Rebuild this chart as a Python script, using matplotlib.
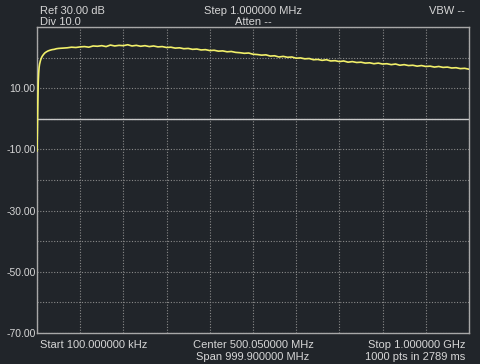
import numpy as np
import matplotlib
matplotlib.use("Agg")
import matplotlib.pyplot as plt
from matplotlib.ticker import FixedLocator, FuncFormatter

# Trace data: frequency in MHz and level in dB
freq_mhz = [0.1, 1, 2, 3, 4, 5, 6, 8, 10, 12, 15, 18, 22, 26, 30, 35, 40, 45, 50] + \
    list(range(60, 1001, 10))
level_db = [
    -10.5, -4.0, 5.0, 12.0, 15.0, 16.8, 17.8, 19.0, 19.8, 20.4, 21.0, 21.5, 21.9,
    22.2, 22.4, 22.6, 22.7, 22.9, 23.0,
    23.1, 23.2, 23.4, 23.3, 23.5, 23.6, 23.4, 23.8, 23.7, 23.9,
    23.6, 24.1, 23.8, 24.0, 23.9, 24.2, 23.8, 24.0, 23.7, 23.9,
    23.6, 23.8, 23.5, 23.6, 23.3, 23.4, 23.1, 23.2, 22.9, 23.0,
    22.7, 22.8, 22.5, 22.6, 22.3, 22.4, 22.1, 22.2, 21.9, 22.0,
    21.7, 21.6, 21.4, 21.5, 21.1, 21.0, 20.8, 20.9, 20.5, 20.6,
    20.2, 20.4, 20.1, 20.2, 19.8, 19.9, 19.6, 19.7, 19.3, 19.4,
    19.1, 19.3, 18.9, 19.0, 18.7, 18.9, 18.5, 18.7, 18.4, 18.5,
    18.2, 18.3, 18.0, 18.2, 17.9, 18.0, 17.7, 17.9, 17.5, 17.7,
    17.4, 17.5, 17.2, 17.4, 17.1, 17.2, 16.9, 17.1, 16.8, 16.9,
    16.6, 16.7, 16.4, 16.5, 16.2,
]

ref_level = 0.0
y_labels = [10, -10, -30, -50, -70]

bg = "#21252a"
txt = "#d6d6d6"

fig = plt.figure(figsize=(4.8, 3.64), dpi=100, facecolor=bg)
ax = fig.add_axes([37 / 480, 31 / 364, 432 / 480, 306 / 364], facecolor=bg)

ax.plot(freq_mhz, level_db, color="#f2f06a", lw=1.2, zorder=4)
ax.axhline(ref_level, color="#c8c8c8", lw=1.0)

ax.set_xlim(0.1, 1000)
ax.set_ylim(-70, 30)
ax.xaxis.set_major_locator(FixedLocator(np.linspace(0.1, 1000, 11)))
ax.yaxis.set_major_locator(FixedLocator(range(-70, 31, 10)))
ax.yaxis.set_major_formatter(FuncFormatter(
    lambda v, p: "%.2f" % v if int(round(v)) in y_labels else ""))
ax.set_xticklabels([])
ax.tick_params(length=0, colors=txt, labelsize=7.5, pad=1)
for lbl in ax.get_yticklabels():
    lbl.set_fontfamily("Liberation Sans")
ax.grid(True, color="#8a8a8a", lw=0.8, linestyle=(0, (1, 1.5)))
for s in ax.spines.values():
    s.set_color("#a8a8a8")
    s.set_linewidth(1.0)

font = dict(color=txt, fontsize=8, family="Liberation Sans")
fig.text(40 / 480, 1 - 11 / 364, "Ref 30.00 dB", ha="left", va="center", **font)
fig.text(40 / 480, 1 - 22 / 364, "Div 10.0", ha="left", va="center", **font)
fig.text(253 / 480, 1 - 11 / 364, "Step 1.000000 MHz", ha="center", va="center", **font)
fig.text(253 / 480, 1 - 22 / 364, "Atten --", ha="center", va="center", **font)
fig.text(465 / 480, 1 - 11 / 364, "VBW --", ha="right", va="center", **font)
fig.text(40 / 480, 1 - 345 / 364, "Start 100.000000 kHz", ha="left", va="center", **font)
fig.text(253 / 480, 1 - 345 / 364, "Center 500.050000 MHz", ha="center", va="center", **font)
fig.text(253 / 480, 1 - 357 / 364, "Span 999.900000 MHz", ha="center", va="center", **font)
fig.text(465 / 480, 1 - 345 / 364, "Stop 1.000000 GHz", ha="right", va="center", **font)
fig.text(465 / 480, 1 - 357 / 364, "1000 pts in 2789 ms", ha="right", va="center", **font)

fig.savefig("out.png", dpi=100, facecolor=bg)
